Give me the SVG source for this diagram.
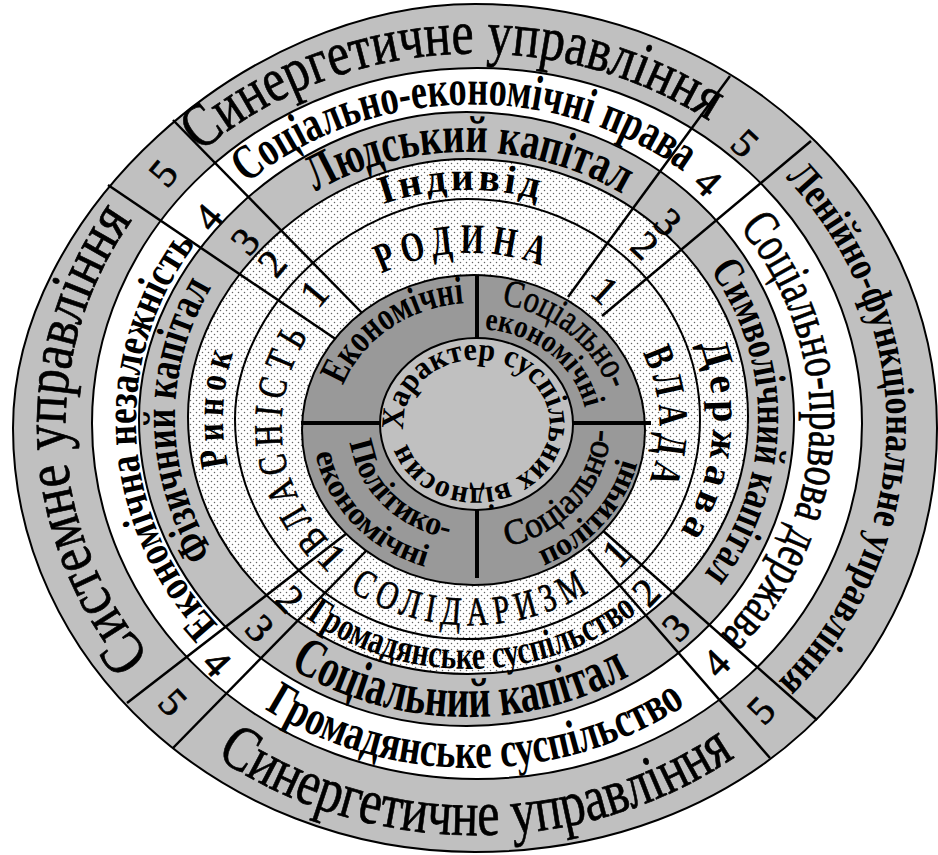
<svg xmlns="http://www.w3.org/2000/svg" width="938" height="855" viewBox="0 0 938 855" font-family="'Liberation Serif', 'Times New Roman', 'DejaVu Serif', serif">
<style>
text{font-family:"Liberation Serif","Times New Roman","DejaVu Serif",serif;fill:#000}
.b{font-weight:bold}
.r{stroke:#000;stroke-width:0.7}
.ln{stroke:#000;stroke-width:2;fill:none}
.sp{stroke:#000;stroke-width:2.5;fill:none}
.n{font-size:40px;text-anchor:middle;stroke:#000;stroke-width:0.7}
</style>
<defs>
<pattern id="dots" width="6" height="6" patternUnits="userSpaceOnUse"><rect width="6" height="6" fill="#fff"/><circle cx="1.5" cy="1.5" r="0.75" fill="#666"/><circle cx="4.5" cy="4.5" r="0.75" fill="#666"/></pattern>
<path id="E0" d="M13,428 C13,216 244,4 475,4 C730.2,4 937,193.8 937,428 C937,669.7 738.3,852 475,852 C220.9,852 13,661.2 13,428Z"/>
<path id="E2" d="M139,419 C139,259.4 296.2,112 466.5,112 C647.4,112 794,249.4 794,419 C794,588.6 647.4,726 466.5,726 C285.6,726 139,588.6 139,419Z"/>
<path id="E3" d="M188,416.5 C188,282.6 322.4,159 468,159 C622.6,159 748,274.3 748,416.5 C748,558.7 622.6,674 468,674 C313.4,674 188,558.7 188,416.5Z"/>
<path id="E4" d="M235,419 C235,309 351.25,199 467.5,199 C595.9,199 700,297.5 700,419 C700,540.5 595.9,639 467.5,639 C339.1,639 235,540.5 235,419Z"/>
<path id="p1" d="M113.5,258.6 A406,373 0 0 1 810.0,214.3"/>
<path id="p2" d="M111.2,657.7 A442,409 0 0 0 839.8,657.7"/>
<path id="p3" d="M240.1,734.7 A410,377 0 0 1 216.2,134.0"/>
<path id="p4" d="M682.6,99.5 A411,378 0 0 1 673.2,757.4"/>
<path id="p5" d="M176.0,263.8 A342,317 0 0 1 758.6,247.7"/>
<path id="p6" d="M177.3,632.7 A372,347 0 0 0 771.4,626.9"/>
<path id="p7" d="M297.7,686.9 A336,311 0 0 1 267.7,174.1"/>
<path id="p8" d="M663.9,160.9 A342,317 0 0 1 638.6,695.6"/>
<path id="p9" d="M248.8,244.4 A288,266 0 0 1 688.4,247.9"/>
<path id="p10" d="M216.5,604.9 A321,299 0 0 0 705.9,617.7"/>
<path id="p11" d="M271.0,618.1 A292,270 0 0 1 267.4,221.0"/>
<path id="p12" d="M648.9,208.1 A291,269 0 0 1 640.9,633.7"/>
<path id="p13" d="M315.5,239.6 A245,228 0 0 1 606.8,230.1"/>
<path id="p14" d="M247.6,560.7 A268,251 0 0 0 693.7,553.4"/>
<path id="p15" d="M254.3,529.6 A245,228 0 0 1 267.6,286.9"/>
<path id="p16" d="M663.9,281.1 A245,228 0 0 1 632.9,586.6"/>
<path id="p17" d="M339.1,302.6 A187,172 0 0 1 592.3,294.5"/>
<path id="p18" d="M304.6,552.2 A215,200 0 0 0 638.8,549.5"/>
<path id="p19" d="M369.1,571.8 A189,174 0 0 1 346.9,293.4"/>
<path id="p20" d="M614.1,311.9 A189,174 0 0 1 621.9,529.1"/>
<path id="p21" d="M336.0,412.8 A140,125 0 0 1 492.1,303.9"/>
<path id="p22" d="M480.3,302.1 A141,126 0 0 1 614.6,410.1"/>
<path id="p23" d="M472.1,329.0 A112,99 0 0 1 586.7,420.2"/>
<path id="p24" d="M349.0,429.2 A126,113 0 0 0 461.8,540.4"/>
<path id="p25" d="M313.1,433.3 A162,146 0 0 0 444.4,571.4"/>
<path id="p26" d="M497.3,548.3 A135,122 0 0 0 609.7,420.6"/>
<path id="p27" d="M524.7,572.2 A167,151 0 0 0 641.1,443.5"/>
<path id="p28" d="M403.8,430.0 A73,64 0 1 1 549.2,418.0 A73,64 0 1 1 403.8,430.0"/>
</defs>

<g id="rings">
<use href="#E0" fill="#c0c0c0"/>
<ellipse cx="477" cy="423.5" rx="385" ry="355.5" fill="#fff"/>
<use href="#E2" fill="#c0c0c0"/>
<use href="#E3" fill="url(#dots)"/>
<use href="#E0" class="ln" stroke-width="3"/>
<ellipse cx="477" cy="423.5" rx="385" ry="355.5" class="ln"/>
<use href="#E2" class="ln"/>
<use href="#E3" class="ln"/>
<use href="#E4" class="ln"/>
</g>

<g id="connectors">
<line class="sp" x1="108" y1="185" x2="337" y2="340"/>
<line class="sp" x1="173" y1="120" x2="366" y2="317"/>
<line class="sp" x1="730" y1="76" x2="568" y2="297"/>
<line class="sp" x1="811" y1="141" x2="602" y2="316"/>
<line class="sp" x1="127" y1="703" x2="351" y2="530"/>
<line class="sp" x1="173" y1="748" x2="366" y2="551"/>
<line class="sp" x1="817" y1="720" x2="601" y2="529"/>
<line class="sp" x1="770" y1="758" x2="588" y2="549"/>
</g>

<g id="core">
<ellipse cx="473.5" cy="430" rx="171.5" ry="155" fill="#999" stroke="#000" stroke-width="2"/>
<line x1="301" y1="423" x2="651" y2="423" stroke="#000" stroke-width="4"/>
<line x1="477" y1="275" x2="477" y2="578" stroke="#000" stroke-width="4"/>
<ellipse cx="476.5" cy="424" rx="96.5" ry="86" fill="#c0c0c0" stroke="#000" stroke-width="2"/>
<text class="b" font-size="32"><textPath href="#p28" textLength="417" lengthAdjust="spacingAndGlyphs">Характер суспільних відносин</textPath></text>
</g>

<g id="q-economic"><text class="b" font-size="40"><textPath href="#p21" startOffset="50%" text-anchor="middle" textLength="154" lengthAdjust="spacingAndGlyphs">Економічні</textPath></text></g>
<g id="q-socio-economic">
<text class="r" font-size="38"><textPath href="#p22" startOffset="50%" text-anchor="middle" textLength="144" lengthAdjust="spacingAndGlyphs">Соціально-</textPath></text>
<text class="b" font-size="32"><textPath href="#p23" startOffset="50%" text-anchor="middle" textLength="136" lengthAdjust="spacingAndGlyphs">економічні</textPath></text>
</g>
<g id="q-politico-economic">
<text class="b" font-size="34"><textPath href="#p24" startOffset="50%" text-anchor="middle" textLength="147" lengthAdjust="spacingAndGlyphs">Політико-</textPath></text>
<text class="b" font-size="32"><textPath href="#p25" startOffset="50%" text-anchor="middle" textLength="166" lengthAdjust="spacingAndGlyphs">економічні</textPath></text>
</g>
<g id="q-socio-political">
<text class="r" font-size="36"><textPath href="#p26" startOffset="50%" text-anchor="middle" textLength="166" lengthAdjust="spacingAndGlyphs">Соціально-</textPath></text>
<text class="b" font-size="32"><textPath href="#p27" startOffset="50%" text-anchor="middle" textLength="143" lengthAdjust="spacingAndGlyphs">політичні</textPath></text>
</g>

<g id="ring1">
<text class="b" font-size="42" letter-spacing="10"><textPath href="#p17" startOffset="50%" text-anchor="middle" textLength="172" lengthAdjust="spacingAndGlyphs">РОДИНА</textPath></text>
<text class="r" font-size="40" letter-spacing="9"><textPath href="#p18" startOffset="50%" text-anchor="middle" textLength="258" lengthAdjust="spacingAndGlyphs">СОЛІДАРИЗМ</textPath></text>
<text class="r" font-size="40" letter-spacing="9"><textPath href="#p19" startOffset="50%" text-anchor="middle" textLength="228" lengthAdjust="spacingAndGlyphs">ВЛАСНІСТЬ</textPath></text>
<text class="b" font-size="42" letter-spacing="9"><textPath href="#p20" startOffset="50%" text-anchor="middle" textLength="138" lengthAdjust="spacingAndGlyphs">ВЛАДА</textPath></text>
</g>

<g id="ring2">
<text class="b" font-size="40"><textPath href="#p13" startOffset="50%" text-anchor="middle" textLength="157" lengthAdjust="spacing">Індивід</textPath></text>
<text class="b" font-size="40"><textPath href="#p14" startOffset="50%" text-anchor="middle" textLength="354" lengthAdjust="spacingAndGlyphs">Громадянське суспільство</textPath></text>
<text class="b" font-size="40" letter-spacing="8"><textPath href="#p15" startOffset="50%" text-anchor="middle" textLength="120" lengthAdjust="spacingAndGlyphs">Ринок</textPath></text>
<text class="b" font-size="40"><textPath href="#p16" startOffset="50%" text-anchor="middle" textLength="195" lengthAdjust="spacing">Держава</textPath></text>
</g>

<g id="ring3">
<text class="b" font-size="52"><textPath href="#p9" startOffset="50%" text-anchor="middle" textLength="321" lengthAdjust="spacingAndGlyphs">Людський капітал</textPath></text>
<text class="b" font-size="56"><textPath href="#p10" startOffset="50%" text-anchor="middle" textLength="356" lengthAdjust="spacingAndGlyphs">Соціальний капітал</textPath></text>
<text class="b" font-size="46"><textPath href="#p11" startOffset="50%" text-anchor="middle" textLength="280" lengthAdjust="spacingAndGlyphs">Фізичний капітал</textPath></text>
<text class="b" font-size="44"><textPath href="#p12" startOffset="50%" text-anchor="middle" textLength="326" lengthAdjust="spacingAndGlyphs">Символічний капітал</textPath></text>
</g>

<g id="ring4">
<text class="b" font-size="50"><textPath href="#p5" startOffset="50%" text-anchor="middle" textLength="469" lengthAdjust="spacingAndGlyphs">Соціально-економічні права</textPath></text>
<text class="b" font-size="50"><textPath href="#p6" startOffset="50%" text-anchor="middle" textLength="444" lengthAdjust="spacingAndGlyphs">Громадянське суспільство</textPath></text>
<text class="b" font-size="44"><textPath href="#p7" startOffset="50%" text-anchor="middle" textLength="415" lengthAdjust="spacingAndGlyphs">Економічна незалежність</textPath></text>
<text class="r" font-size="52"><textPath href="#p8" startOffset="50%" text-anchor="middle" textLength="449" lengthAdjust="spacingAndGlyphs">Соціально-правова держава</textPath></text>
</g>

<g id="ring5">
<text class="r" font-size="62"><textPath href="#p1" startOffset="50%" text-anchor="middle" textLength="545" lengthAdjust="spacingAndGlyphs">Синергетичне управління</textPath></text>
<text class="r" font-size="64"><textPath href="#p2" startOffset="50%" text-anchor="middle" textLength="550" lengthAdjust="spacingAndGlyphs">Синергетичне управління</textPath></text>
<text class="r" font-size="62"><textPath href="#p3" startOffset="50%" text-anchor="middle" textLength="470" lengthAdjust="spacingAndGlyphs">Системне управління</textPath></text>
<text class="b" font-size="42"><textPath href="#p4" startOffset="50%" text-anchor="middle" textLength="560" lengthAdjust="spacingAndGlyphs">Ленійно-функціональне управління</textPath></text>
</g>

<g id="numbers">
<g id="spoke-tl">
<text class="n" dy="0.34em" transform="translate(163,173) rotate(-50)">5</text>
<text class="n" dy="0.34em" transform="translate(208,217) rotate(-50)">4</text>
<text class="n" dy="0.34em" transform="translate(245,241) rotate(-50)">3</text>
<text class="n" dy="0.34em" transform="translate(272,263) rotate(-50)">2</text>
<text class="n" dy="0.34em" transform="translate(314,293) rotate(-50)">1</text>
</g>
<g id="spoke-tr">
<text class="n" dy="0.34em" transform="translate(745,143) rotate(43)">5</text>
<text class="n" dy="0.34em" transform="translate(708,182) rotate(43)">4</text>
<text class="n" dy="0.34em" transform="translate(668,222) rotate(43)">3</text>
<text class="n" dy="0.34em" transform="translate(645,245) rotate(43)">2</text>
<text class="n" dy="0.34em" transform="translate(605,290) rotate(43)">1</text>
</g>
<g id="spoke-br">
<text class="n" dy="0.34em" transform="translate(616,553) rotate(-46)">1</text>
<text class="n" dy="0.34em" transform="translate(646,592) rotate(-46)">2</text>
<text class="n" dy="0.34em" transform="translate(676,627) rotate(-46)">3</text>
<text class="n" dy="0.34em" transform="translate(716,663) rotate(-46)">4</text>
<text class="n" dy="0.34em" transform="translate(761,710) rotate(-46)">5</text>
</g>
<g id="spoke-bl">
<text class="n" dy="0.34em" transform="translate(332,557) rotate(47)">1</text>
<text class="n" dy="0.34em" transform="translate(290,599) rotate(47)">2</text>
<text class="n" dy="0.34em" transform="translate(260,628) rotate(47)">3</text>
<text class="n" dy="0.34em" transform="translate(217,663) rotate(47)">4</text>
<text class="n" dy="0.34em" transform="translate(173,702) rotate(47)">5</text>
</g>
</g>
</svg>
